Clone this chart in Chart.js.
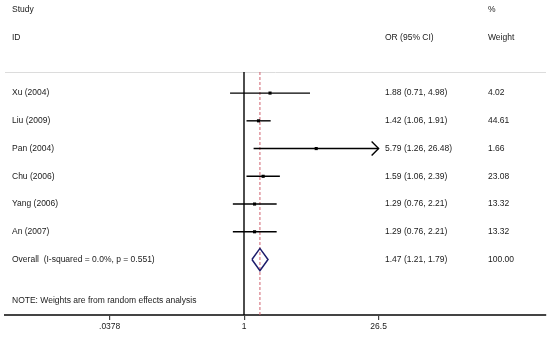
<!DOCTYPE html>
<html>
<head>
<meta charset="utf-8">
<script src="https://cdn.jsdelivr.net/npm/chart.js@4"></script>
<style>
	html, body { margin: 0; padding: 0; background: #fff; }
	#wrap { width: 550px; height: 337px; }
</style>
</head>
<body>
<div id="wrap"><canvas id="forest" width="550" height="337"></canvas></div>
<script>
// 各研究のデータ
const studies = ['Xu (2004)', 'Liu (2009)', 'Pan (2004)', 'Chu (2006)', 'Yang (2006)', 'An (2007)']
const orValues = [1.88, 1.42, 5.79, 1.59, 1.29, 1.29]
const ciLower = [0.71, 1.06, 1.26, 1.06, 0.76, 0.76]
const ciUpper = [4.98, 1.91, 26.48, 2.39, 2.21, 2.21]
const weights = ['4.02', '44.61', '1.66', '23.08', '13.32', '13.32']

// 全体の結果
const overallLabel = 'Overall  (I-squared = 0.0%, p = 0.551)'
const overallEst = 1.47
const overallLower = 1.21
const overallUpper = 1.79
const overallWeight = '100.00'

// x軸の目盛り
const xTicks = [0.0378, 1, 26.5]
const xTickLabels = ['.0378', '1', '26.5']

const noteText = 'NOTE: Weights are from random effects analysis'
const FAMILY = '"Liberation Sans", Arial, sans-serif'
const FONT = '8.5px ' + FAMILY
const TEXT = '#1a1a1a'

const fmt = v => v.toFixed(2)

// 信頼区間の線
const ciSets = studies.map((s, i) => ({
	type: 'scatter',
	showLine: true,
	data: [{ x: ciLower[i], y: i }, { x: Math.min(ciUpper[i], xTicks[2]), y: i }],
	borderColor: '#000',
	borderWidth: 1.4,
	pointRadius: 0,
	order: 2
}))

// 点推定
const pointSet = {
	type: 'scatter',
	data: orValues.map((v, i) => ({ x: v, y: i })),
	pointStyle: 'rect',
	pointRadius: 2.2,
	backgroundColor: '#000',
	borderColor: '#000',
	borderWidth: 0,
	order: 1
}

// ダイヤモンド
const oy = studies.length
const diamondSet = {
	type: 'scatter',
	showLine: true,
	data: [
		{ x: overallLower, y: oy },
		{ x: overallEst, y: oy - 0.4 },
		{ x: overallUpper, y: oy },
		{ x: overallEst, y: oy + 0.4 },
		{ x: overallLower, y: oy }
	],
	borderColor: '#1c1c6b',
	borderWidth: 1.5,
	pointRadius: 0,
	order: 1
}

const forestPlugin = {
	id: 'forestText',
	beforeDatasetsDraw(chart) {
		const { ctx, chartArea, scales: { x } } = chart
		ctx.save()
		// 上の薄い線
		ctx.strokeStyle = '#dcdcdc'
		ctx.lineWidth = 1
		ctx.beginPath()
		ctx.moveTo(chartArea.left, chartArea.top + 0.5)
		ctx.lineTo(chartArea.right, chartArea.top + 0.5)
		ctx.stroke()
		// 1の線
		const x1 = Math.round(x.getPixelForValue(1))
		ctx.strokeStyle = '#000'
		ctx.lineWidth = 1.4
		ctx.beginPath()
		ctx.moveTo(x1, chartArea.top)
		ctx.lineTo(x1, chartArea.bottom)
		ctx.stroke()
		// 全体推定の点線
		const xe = x.getPixelForValue(overallEst)
		ctx.strokeStyle = '#d0606e'
		ctx.lineWidth = 1
		ctx.setLineDash([3, 2])
		ctx.beginPath()
		ctx.moveTo(xe, chartArea.top)
		ctx.lineTo(xe, chartArea.bottom)
		ctx.stroke()
		ctx.restore()
	},
	afterDatasetsDraw(chart) {
		const { ctx, scales: { x, y } } = chart
		ctx.save()
		// 矢印（上限が範囲外）
		ctx.strokeStyle = '#000'
		ctx.lineWidth = 1.4
		ciUpper.forEach((hi, i) => {
			if (hi < xTicks[2] * 0.99) return
			const px = x.getPixelForValue(Math.min(hi, xTicks[2]))
			const py = y.getPixelForValue(i)
			ctx.beginPath()
			ctx.moveTo(px - 7, py - 7)
			ctx.lineTo(px, py)
			ctx.lineTo(px - 7, py + 7)
			ctx.stroke()
		})

		ctx.fillStyle = TEXT
		ctx.font = FONT
		ctx.textBaseline = 'middle'
		// 見出し
		ctx.fillText('Study', 12, 10)
		ctx.fillText('ID', 12, 38)
		ctx.fillText('OR (95% CI)', 385, 38)
		ctx.fillText('%', 488, 10)
		ctx.fillText('Weight', 488, 38)
		// 各行
		studies.forEach((s, i) => {
			const py = y.getPixelForValue(i)
			ctx.fillText(s, 12, py)
			ctx.fillText(fmt(orValues[i]) + ' (' + fmt(ciLower[i]) + ', ' + fmt(ciUpper[i]) + ')', 385, py)
			ctx.fillText(weights[i], 488, py)
		})
		const py = y.getPixelForValue(oy)
		ctx.fillText(overallLabel, 12, py)
		ctx.fillText(fmt(overallEst) + ' (' + fmt(overallLower) + ', ' + fmt(overallUpper) + ')', 385, py)
		ctx.fillText(overallWeight, 488, py)
		ctx.fillText(noteText, 12, y.getPixelForValue(oy + 1.5))
		ctx.restore()
	}
}

new Chart(document.getElementById('forest'), {
	data: { datasets: [...ciSets, pointSet, diamondSet] },
	options: {
		responsive: false,
		animation: false,
		devicePixelRatio: 1,
		layout: { padding: { top: 72, left: 5, right: 2, bottom: 0 } },
		plugins: { legend: { display: false }, tooltip: { enabled: false } },
		scales: {
			x: {
				type: 'logarithmic',
				min: Math.exp(-240 / 41.2),
				max: Math.exp(303 / 41.2),
				afterBuildTicks: scale => { scale.ticks = xTicks.map(v => ({ value: v })) },
				afterFit: scale => { scale.height = 22 },
				ticks: {
					color: TEXT,
					font: { family: FAMILY, size: 8.5 },
					padding: 2,
					autoSkip: false,
					maxRotation: 0,
					callback: (v) => {
						const k = xTicks.indexOf(v)
						return k >= 0 ? xTickLabels[k] : ''
					}
				},
				grid: { drawOnChartArea: false, drawTicks: true, tickLength: 5, color: '#444', lineWidth: 1.2 },
				border: { color: '#444', width: 2 }
			},
			y: {
				type: 'linear',
				display: false,
				reverse: true,
				min: -0.76,
				max: 8
			}
		}
	},
	plugins: [forestPlugin]
})
</script>
</body>
</html>
